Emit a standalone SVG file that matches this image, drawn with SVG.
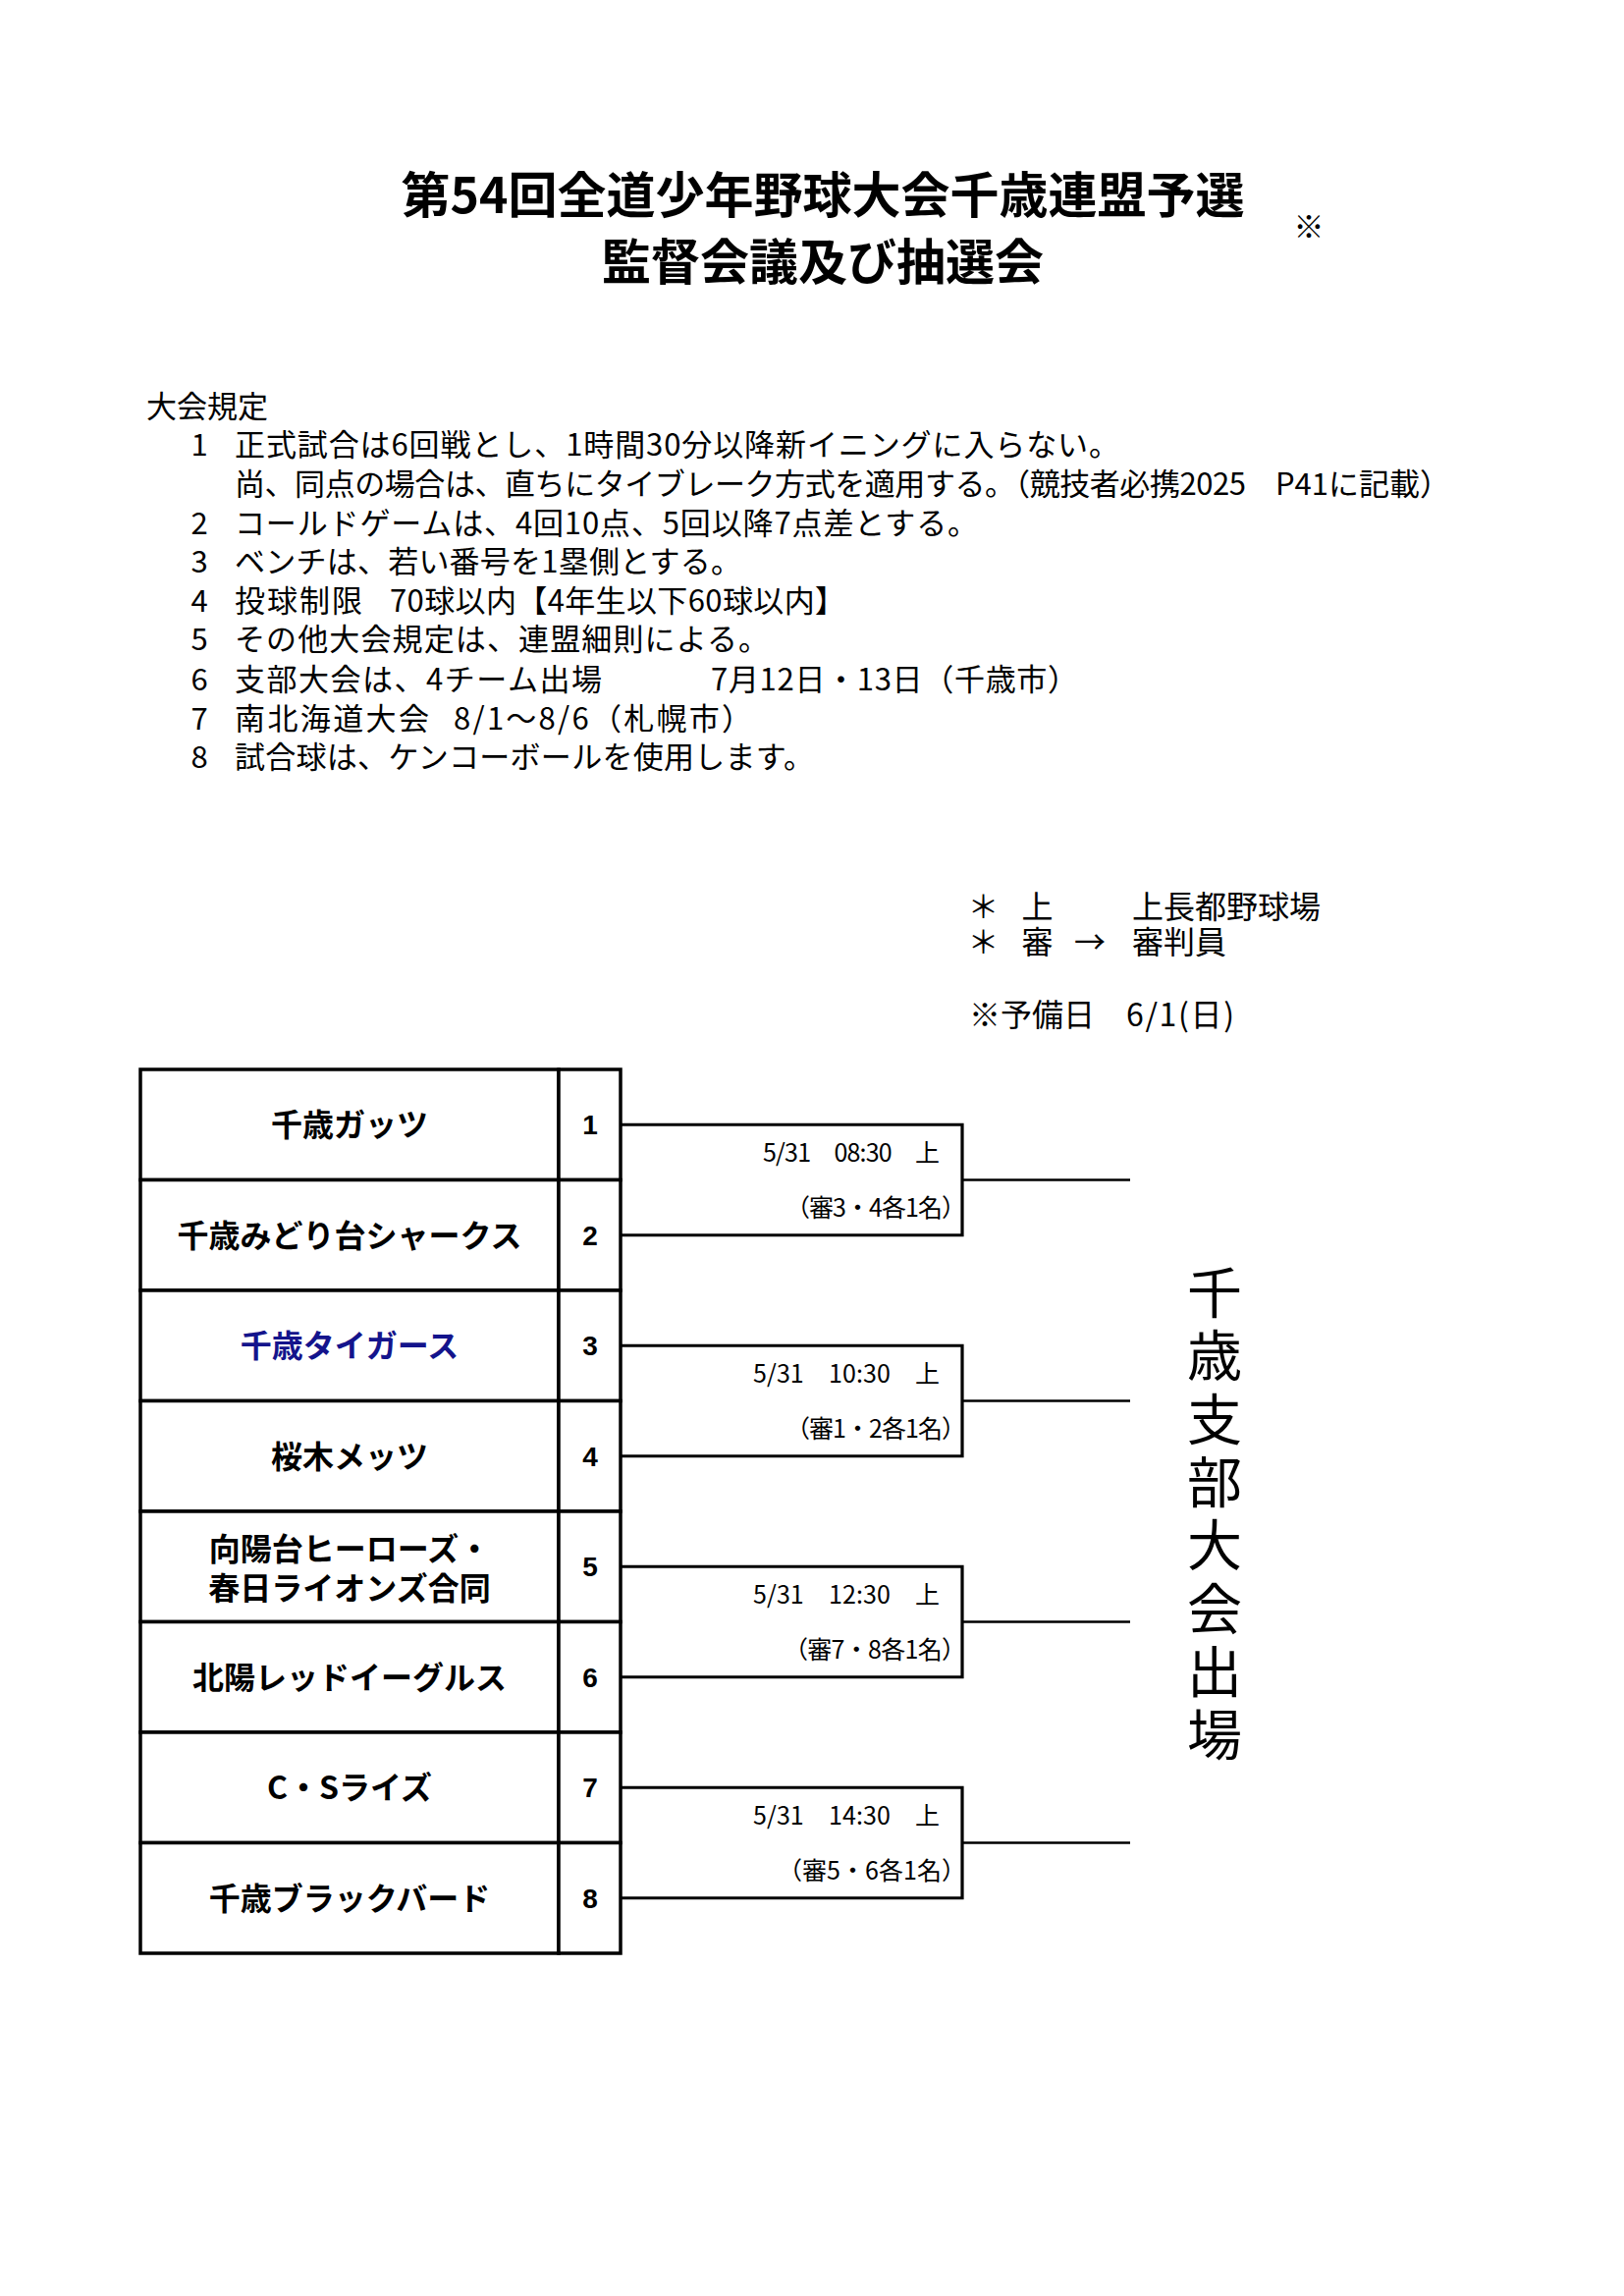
<svg xmlns="http://www.w3.org/2000/svg" width="1654" height="2338" viewBox="0 0 1654 2338">
<style>
.t{font-family:"Noto Sans CJK JP","Noto Sans CJK SC",sans-serif;fill:#000;}
.title{font-size:50px;font-weight:bold;text-anchor:middle;}
.rule{font-size:31px;}
.note{font-size:32px;}
.team{font-size:32px;font-weight:bold;text-anchor:middle;}
.blue{fill:#14148c;}
.num{font-family:"Liberation Sans",Arial,sans-serif;font-size:28px;font-weight:bold;text-anchor:middle;fill:#000;}
.game{font-size:25px;}
.big{font-size:56px;text-anchor:middle;}
.cell{fill:#fff;stroke:#000;stroke-width:3.5;}
.br{fill:none;stroke:#000;stroke-width:3.2;}
.out{fill:none;stroke:#000;stroke-width:2.6;}
</style>
<rect width="1654" height="2338" fill="#fff"/>

<g id="title">
<text class="t title" x="838" y="217">第54回全道少年野球大会千歳連盟予選</text>
<text class="t title" x="838" y="285">監督会議及び抽選会</text>
<text class="t" x="1333" y="242" font-size="31" text-anchor="middle">※</text>
</g>

<g id="rules">
<text class="t rule" x="149" y="425">大会規定</text>
<text class="t rule" x="203" y="464" text-anchor="middle">1</text>
<text class="t rule" x="239" y="464" textLength="901" lengthAdjust="spacing">正式試合は6回戦とし、1時間30分以降新イニングに入らない。</text>
<text class="t rule" x="239" y="504" textLength="1030" lengthAdjust="spacing">尚、同点の場合は、直ちにタイブレーク方式を適用する。（競技者必携2025</text>
<text class="t rule" x="1299" y="504" textLength="178" lengthAdjust="spacing">P41に記載）</text>
<text class="t rule" x="203" y="544" text-anchor="middle">2</text>
<text class="t rule" x="239" y="544" textLength="757" lengthAdjust="spacing">コールドゲームは、4回10点、5回以降7点差とする。</text>
<text class="t rule" x="203" y="583" text-anchor="middle">3</text>
<text class="t rule" x="239" y="583" textLength="516" lengthAdjust="spacing">ベンチは、若い番号を1塁側とする。</text>
<text class="t rule" x="203" y="623" text-anchor="middle">4</text>
<text class="t rule" x="239" y="623" textLength="130" lengthAdjust="spacing">投球制限</text>
<text class="t rule" x="397" y="623" textLength="464" lengthAdjust="spacing">70球以内【4年生以下60球以内】</text>
<text class="t rule" x="203" y="662" text-anchor="middle">5</text>
<text class="t rule" x="239" y="662" textLength="544" lengthAdjust="spacing">その他大会規定は、連盟細則による。</text>
<text class="t rule" x="203" y="703" text-anchor="middle">6</text>
<text class="t rule" x="239" y="703" textLength="374" lengthAdjust="spacing">支部大会は、4チーム出場</text>
<text class="t rule" x="724" y="703" textLength="374" lengthAdjust="spacing">7月12日・13日（千歳市）</text>
<text class="t rule" x="203" y="743" text-anchor="middle">7</text>
<text class="t rule" x="239" y="743" textLength="198" lengthAdjust="spacing">南北海道大会</text>
<text class="t rule" x="462" y="743" textLength="304" lengthAdjust="spacing">8/1～8/6（札幌市）</text>
<text class="t rule" x="203" y="782" text-anchor="middle">8</text>
<text class="t rule" x="239" y="782" textLength="590" lengthAdjust="spacing">試合球は、ケンコーボールを使用します。</text>
</g>

<g id="notes">
<text class="t note" y="935"><tspan x="1001.5" text-anchor="middle">＊</tspan><tspan x="1056.5" text-anchor="middle">上</tspan><tspan x="1153">上長都野球場</tspan></text>
<text class="t note" y="971"><tspan x="1001.5" text-anchor="middle">＊</tspan><tspan x="1056.5" text-anchor="middle">審</tspan><tspan x="1110" text-anchor="middle">→</tspan><tspan x="1153">審判員</tspan></text>
<text class="t note" y="1045"><tspan x="987">※予備日</tspan></text>
<text class="t note" x="1147" y="1045" textLength="110" lengthAdjust="spacing">6/1(日)</text>
</g>

<g id="teams">
<g id="team1"><rect class="cell" x="143" y="1089" width="426" height="112.5"/><rect class="cell" x="569" y="1089" width="63" height="112.5"/><text class="t team" x="356" y="1157">千歳ガッツ</text><text class="num" x="601" y="1155">1</text></g>
<g id="team2"><rect class="cell" x="143" y="1201.5" width="426" height="112.5"/><rect class="cell" x="569" y="1201.5" width="63" height="112.5"/><text class="t team" x="356" y="1269.5">千歳みどり台シャークス</text><text class="num" x="601" y="1268">2</text></g>
<g id="team3"><rect class="cell" x="143" y="1314" width="426" height="112.5"/><rect class="cell" x="569" y="1314" width="63" height="112.5"/><text class="t team blue" x="356" y="1382">千歳タイガース</text><text class="num" x="601" y="1380">3</text></g>
<g id="team4"><rect class="cell" x="143" y="1426.5" width="426" height="112.5"/><rect class="cell" x="569" y="1426.5" width="63" height="112.5"/><text class="t team" x="356" y="1494.5">桜木メッツ</text><text class="num" x="601" y="1493">4</text></g>
<g id="team5"><rect class="cell" x="143" y="1539" width="426" height="112.5"/><rect class="cell" x="569" y="1539" width="63" height="112.5"/><text class="t team" x="356" y="1589">向陽台ヒーローズ・</text><text class="t team" x="356" y="1629">春日ライオンズ合同</text><text class="num" x="601" y="1605">5</text></g>
<g id="team6"><rect class="cell" x="143" y="1651.5" width="426" height="112.5"/><rect class="cell" x="569" y="1651.5" width="63" height="112.5"/><text class="t team" x="356" y="1719.5">北陽レッドイーグルス</text><text class="num" x="601" y="1718">6</text></g>
<g id="team7"><rect class="cell" x="143" y="1764" width="426" height="112.5"/><rect class="cell" x="569" y="1764" width="63" height="112.5"/><text class="t team" x="356" y="1832">C・Sライズ</text><text class="num" x="601" y="1830">7</text></g>
<g id="team8"><rect class="cell" x="143" y="1876.5" width="426" height="112.5"/><rect class="cell" x="569" y="1876.5" width="63" height="112.5"/><text class="t team" x="356" y="1944.5">千歳ブラックバード</text><text class="num" x="601" y="1943">8</text></g>
</g>

<g id="connectors">
<path class="br" d="M632,1145.25 H980 V1257.75 H632"/>
<path class="out" d="M980,1201.5 H1151"/>
<path class="br" d="M632,1370.25 H980 V1482.75 H632"/>
<path class="out" d="M980,1426.5 H1151"/>
<path class="br" d="M632,1595.25 H980 V1707.75 H632"/>
<path class="out" d="M980,1651.5 H1151"/>
<path class="br" d="M632,1820.25 H980 V1932.75 H632"/>
<path class="out" d="M980,1876.5 H1151"/>
</g>

<g id="match-labels">
<text class="t game" x="777" y="1183" textLength="180" lengthAdjust="spacing">5/31　08:30　上</text>
<text class="t game" x="800" y="1239" textLength="184" lengthAdjust="spacing">（審3・4各1名）</text>
<text class="t game" x="767" y="1408" textLength="190" lengthAdjust="spacing">5/31　10:30　上</text>
<text class="t game" x="800" y="1464" textLength="184" lengthAdjust="spacing">（審1・2各1名）</text>
<text class="t game" x="767" y="1633" textLength="190" lengthAdjust="spacing">5/31　12:30　上</text>
<text class="t game" x="798" y="1689" textLength="186" lengthAdjust="spacing">（審7・8各1名）</text>
<text class="t game" x="767" y="1858" textLength="190" lengthAdjust="spacing">5/31　14:30　上</text>
<text class="t game" x="792" y="1914" textLength="192" lengthAdjust="spacing">（審5・6各1名）</text>
</g>

<g id="final">
<text class="t big"><tspan x="1237" y="1337">千</tspan><tspan x="1237" y="1401">歳</tspan><tspan x="1237" y="1466">支</tspan><tspan x="1237" y="1530">部</tspan><tspan x="1237" y="1594">大</tspan><tspan x="1237" y="1659">会</tspan><tspan x="1237" y="1723">出</tspan><tspan x="1237" y="1787">場</tspan></text>
</g>
</svg>
